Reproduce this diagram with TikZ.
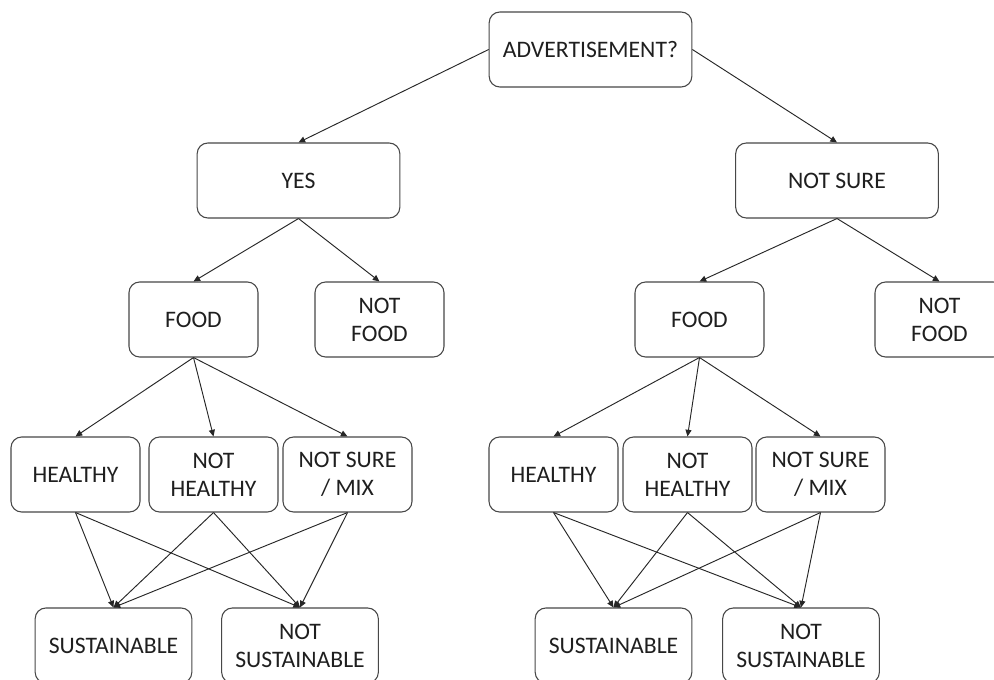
\documentclass[tikz,border=0pt]{standalone}
\usepackage{fontspec}
\setmainfont{Carlito}
\usetikzlibrary{arrows.meta}
\begin{document}
\begin{tikzpicture}[x=0.75pt,y=-0.75pt,
  box/.style={draw=black!72, line width=0.8pt, rounded corners=8pt, minimum height=56.25pt, inner sep=0pt, align=center, font=\fontsize{17.75}{21}\selectfont, text=black!88},
  wide/.style={minimum width=152pt},
  mid/.style={minimum width=96.75pt},
  big/.style={minimum width=117.5pt},
  conn/.style={draw=black!85, line width=0.7pt, -{Triangle[length=5pt,width=4.5pt]}}]
\useasboundingbox (0,0) rectangle (994,680);
\clip (0,0) rectangle (994,680);
\fill[white] (0,0) rectangle (994,680);
% nodes
\node[box,wide] (adv) at (590.5,49.5) {ADVERTISEMENT?};
\node[box,wide] (yes) at (298.5,180.5) {YES};
\node[box,wide] (ns)  at (837,180.5) {NOT SURE};
\node[box,mid] (foodL) at (193.5,319.5) {FOOD};
\node[box,mid] (nfL)   at (379.5,319.5) {NOT\\FOOD};
\node[box,mid] (foodR) at (699.5,319.5) {FOOD};
\node[box,mid] (nfR)   at (939.5,319.5) {NOT\\FOOD};
\node[box,mid] (hL)   at (75.5,474.5) {HEALTHY};
\node[box,mid] (nhL)  at (213.5,474.5) {NOT\\HEALTHY};
\node[box,mid] (nsmL) at (347.5,474.5) {NOT SURE\\/ MIX};
\node[box,mid] (hR)   at (553.5,474.5) {HEALTHY};
\node[box,mid] (nhR)  at (687.5,474.5) {NOT\\HEALTHY};
\node[box,mid] (nsmR) at (820.5,474.5) {NOT SURE\\/ MIX};
\node[box,big] (sL)  at (113.5,645.5) {SUSTAINABLE};
\node[box,big] (nsL) at (300,645.5) {NOT\\SUSTAINABLE};
\node[box,big] (sR)  at (613.5,645.5) {SUSTAINABLE};
\node[box,big] (nsR) at (801,645.5) {NOT\\SUSTAINABLE};
% connectors
\draw[conn] (adv.west) -- (yes.north);
\draw[conn] (adv.east) -- (ns.north);
\draw[conn] (yes.south) -- (foodL.north);
\draw[conn] (yes.south) -- (nfL.north);
\draw[conn] (ns.south) -- (foodR.north);
\draw[conn] (ns.south) -- (nfR.north);
\foreach \t in {hL,nhL,nsmL} \draw[conn] (foodL.south) -- (\t.north);
\foreach \t in {hR,nhR,nsmR} \draw[conn] (foodR.south) -- (\t.north);
\foreach \s in {hL,nhL,nsmL} {
  \draw[conn] (\s.south) -- (sL.north);
  \draw[conn] (\s.south) -- (nsL.north);
}
\foreach \s in {hR,nhR,nsmR} {
  \draw[conn] (\s.south) -- (sR.north);
  \draw[conn] (\s.south) -- (nsR.north);
}
\end{tikzpicture}
\end{document}
